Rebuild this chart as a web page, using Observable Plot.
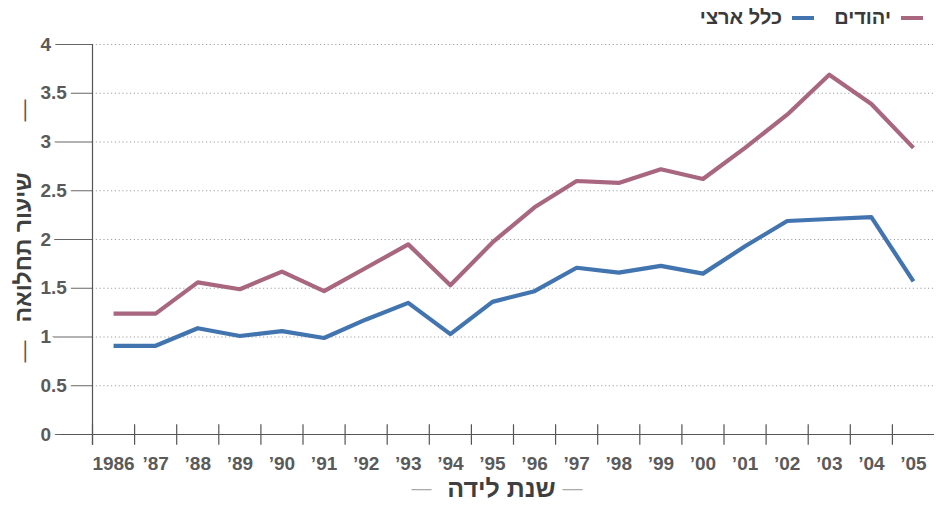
<!DOCTYPE html>
<html>
<head>
<meta charset="utf-8">
<script src="https://cdn.jsdelivr.net/npm/d3@7"></script>
<script src="https://cdn.jsdelivr.net/npm/@observablehq/plot@0.6"></script>
<style>
  html, body { margin: 0; padding: 0; background: #fff; }
  #wrap { position: relative; width: 936px; height: 507px; font-family: "Liberation Sans", Arial, "DejaVu Sans", sans-serif; }
  #legend { position: absolute; top: 6px; right: 13px; direction: rtl; display: flex; gap: 20px; font-size: 20px; font-weight: bold; color: #3a3a3a; }
  #legend .item { display: flex; align-items: center; gap: 10px; }
  #legend .sw { display: inline-block; width: 22px; height: 4px; }
</style>
</head>
<body>
<div id="wrap"><div id="legend"></div></div>
<script>
const years = [1986,1987,1988,1989,1990,1991,1992,1993,1994,1995,1996,1997,1998,1999,2000,2001,2002,2003,2004,2005];
const tickLabels = ["1986","’87","’88","’89","’90","’91","’92","’93","’94","’95","’96","’97","’98","’99","’00","’01","’02","’03","’04","’05"];
const jews     = [1.24,1.24,1.56,1.49,1.67,1.47,1.71,1.95,1.53,1.97,2.33,2.60,2.58,2.72,2.62,2.94,3.28,3.69,3.39,2.94];
const national = [0.91,0.91,1.09,1.01,1.06,0.99,1.18,1.35,1.03,1.36,1.47,1.71,1.66,1.73,1.65,1.93,2.19,2.21,2.23,1.57];
const seriesNames = ["יהודים", "כלל ארצי"];
const seriesColors = ["#a8667f", "#4274b0"];
const yTicks = [0,0.5,1,1.5,2,2.5,3,3.5,4];
const yTitle = "שיעור תחלואה";
const xTitle = "שנת לידה";

const data = [
  ...years.map((y, i) => ({year: y, value: jews[i], series: seriesNames[0]})),
  ...years.map((y, i) => ({year: y, value: national[i], series: seriesNames[1]}))
];
const boundaries = years.map(y => y - 0.5);
const font = "'Liberation Sans', Arial, 'DejaVu Sans', sans-serif";

const chart = Plot.plot({
  width: 936,
  height: 507,
  marginLeft: 92,
  marginRight: 2,
  marginTop: 44,
  marginBottom: 73,
  style: {fontFamily: font, background: "#fff", overflow: "visible"},
  x: {domain: [1985.5, 2005.5], axis: null},
  y: {domain: [0, 4], axis: null},
  color: {domain: seriesNames, range: seriesColors},
  marks: [
    Plot.gridY(yTicks, {stroke: "#888", strokeOpacity: 0.8, strokeDasharray: "1.2,2.6", strokeWidth: 1}),
    // y tick leader lines (covered under labels by a white halo)
    Plot.ruleY(yTicks, {x1: 1984.38, x2: 1985.5, stroke: "#666", strokeWidth: 1.1}),
    Plot.text(yTicks, {y: d => d, frameAnchor: "left", dx: -52, textAnchor: "start", text: d => String(d), fontSize: 19, fontWeight: "bold", fill: "#5a5a5a", stroke: "#fff", strokeWidth: 9, paintOrder: "stroke"}),
    Plot.ruleX([boundaries[0]], {y1: -0.11, y2: 4, stroke: "#555", strokeWidth: 1.2}),
    Plot.ruleY([0], {x1: 1984.75, x2: 2005.5, stroke: "#555", strokeWidth: 1.2}),
    Plot.ruleX(boundaries, {y1: -0.11, y2: 0.1, stroke: "#555", strokeWidth: 1.2}),
    Plot.axisX(years, {anchor: "bottom", tickSize: 0, tickPadding: 22, fontSize: 19, fontWeight: "bold", fill: "#5a5a5a", label: null, tickFormat: d => tickLabels[years.indexOf(d)]}),
    Plot.lineY(data, {x: "year", y: "value", stroke: "series", strokeWidth: 4.2, strokeLinejoin: "round", strokeLinecap: "butt"}),
    // y title with dashes
    Plot.text([yTitle], {frameAnchor: "left", textAnchor: "middle", dx: -69, dy: 8, rotate: -90, fontSize: 23, fontWeight: "bold", fill: "#3f3f3f"}),
    Plot.text(["—"], {frameAnchor: "left", textAnchor: "middle", dx: -69, dy: -129, rotate: -90, fontSize: 22, fill: "#555"}),
    Plot.text(["—"], {frameAnchor: "left", textAnchor: "middle", dx: -69, dy: 112, rotate: -90, fontSize: 22, fill: "#555"}),
    // x title with dashes
    Plot.text([xTitle], {frameAnchor: "bottom", textAnchor: "middle", dx: -12, dy: 62, fontSize: 25, fontWeight: "bold", fill: "#3f3f3f"}),
    Plot.text(["—"], {frameAnchor: "bottom", textAnchor: "middle", dx: -92, dy: 60, fontSize: 20, fill: "#aaa"}),
    Plot.text(["—"], {frameAnchor: "bottom", textAnchor: "middle", dx: 59, dy: 60, fontSize: 20, fill: "#aaa"})
  ]
});
document.getElementById("wrap").appendChild(chart);

const legend = document.getElementById("legend");
seriesNames.forEach((name, i) => {
  const item = document.createElement("div");
  item.className = "item";
  const sw = document.createElement("span");
  sw.className = "sw";
  sw.style.background = seriesColors[i];
  const t = document.createElement("span");
  t.textContent = name;
  item.appendChild(sw);
  item.appendChild(t);
  legend.appendChild(item);
});
</script>
</body>
</html>
